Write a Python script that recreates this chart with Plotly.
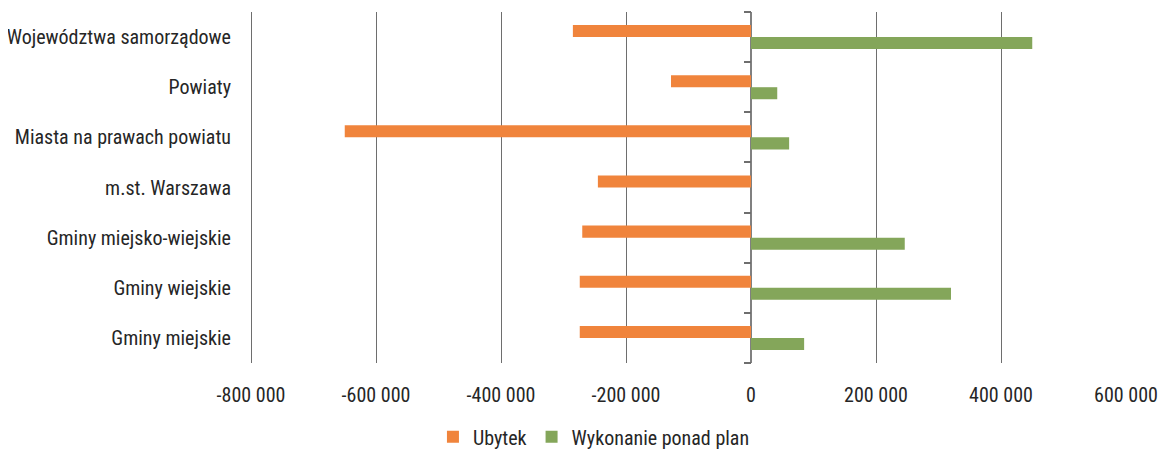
import plotly.graph_objects as go

categories = ["Województwa samorządowe", "Powiaty", "Miasta na prawach powiatu",
              "m.st. Warszawa", "Gminy miejsko-wiejskie", "Gminy wiejskie", "Gminy miejskie"]
ubytek = [-285000, -128000, -650000, -245000, -270000, -274000, -274000]
wykonanie = [450000, 42000, 61000, 0, 246000, 320000, 85000]
x_tickvals = [-800000, -600000, -400000, -200000, 0, 200000, 400000, 600000]
x_ticktext = ["-800 000", "-600 000", "-400 000", "-200 000", "0", "200 000", "400 000", "600 000"]

FONT = "Arial Narrow, Roboto Condensed, sans-serif"

fig = go.Figure()
fig.add_trace(go.Bar(y=categories, x=ubytek, orientation="h", name="Ubytek",
                     marker=dict(color="#F0843C", line=dict(width=0))))
fig.add_trace(go.Bar(y=categories, x=wykonanie, orientation="h", name="Wykonanie ponad plan",
                     marker=dict(color="#84A65A", line=dict(width=0))))

xmin, xmax = -808000, 601600
n = len(categories)
fig.update_layout(
    template="none",
    width=1158, height=442,
    margin=dict(l=238, r=39, t=4, b=87, pad=0),
    paper_bgcolor="white", plot_bgcolor="white",
    font=dict(family=FONT, size=20, color="#262626"),
    barmode="group", bargap=0.52, bargroupgap=0,
    showlegend=True,
    legend=dict(orientation="h", xref="container", yref="container",
                x=0.506, xanchor="center", y=0.03, yanchor="middle",
                font=dict(size=20, family=FONT, color="#262626"),
                itemwidth=30, traceorder="normal", bgcolor="rgba(0,0,0,0)"),
    xaxis=dict(range=[xmin, xmax], tickvals=x_tickvals, ticktext=x_ticktext,
               showgrid=True, gridcolor="#6E6E6E", gridwidth=1,
               zeroline=True, zerolinecolor="#808080", zerolinewidth=1.5,
               showline=False, ticks="", ticklabelstandoff=18, domain=[0, 1],
               automargin=False),
    yaxis=dict(type="category", categoryorder="array", categoryarray=categories,
               range=[n - 0.5, -0.5], showgrid=False, zeroline=False, showline=False,
               ticks="", ticklabelstandoff=14, automargin=False),
    yaxis2=dict(overlaying="y", anchor="free", position=(0 - xmin) / (xmax - xmin),
                range=[n - 0.5, -0.5], tickvals=[i - 0.5 for i in range(n + 1)],
                showticklabels=False, ticks="outside", ticklen=7, tickcolor="#6E6E6E",
                tickwidth=1.5, showline=False, showgrid=False,
                zeroline=False, side="left", automargin=False),
)
# invisible trace to activate yaxis2
fig.add_trace(go.Scatter(x=[0], y=[0], yaxis="y2", mode="markers",
                         marker=dict(opacity=0), showlegend=False, hoverinfo="skip"))

fig.write_html("out.html")
